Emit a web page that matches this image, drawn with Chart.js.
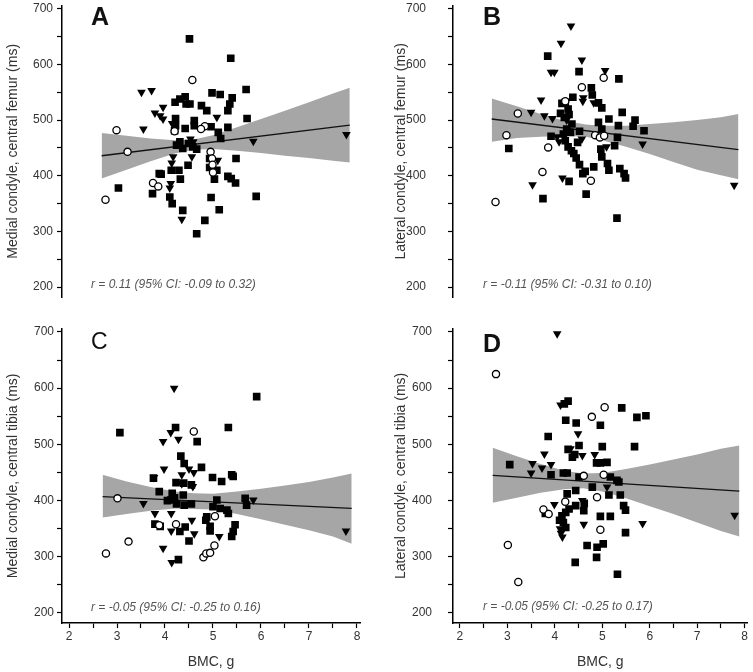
<!DOCTYPE html>
<html><head><meta charset="utf-8">
<script src="https://cdn.jsdelivr.net/npm/chart.js@4.4.1/dist/chart.umd.min.js"></script>
<style>
html,body{margin:0;padding:0;background:#fff;}
#wrap{position:relative;width:753px;height:672px;overflow:hidden;}
canvas{position:absolute;}
</style></head><body>
<div id="wrap">
<canvas id="cA" width="376" height="320" style="left:0;top:0"></canvas>
<canvas id="cB" width="377" height="320" style="left:376px;top:0"></canvas>
<canvas id="cC" width="376" height="352" style="left:0;top:320px"></canvas>
<canvas id="cD" width="377" height="352" style="left:376px;top:320px"></canvas>
</div>
<script>
// ---------- texts & ticks ----------
const xTicks = [2, 3, 4, 5, 6, 7, 8];
const yTicks = [200, 300, 400, 500, 600, 700];
const xMinorTicks = [2.5, 3.5, 4.5, 5.5, 6.5, 7.5];
const yMinorTicks = [250, 350, 450, 550, 650];
const panelLetters = ['A', 'B', 'C', 'D'];
const yTitles = ['Medial condyle, central femur (ms)', 'Lateral condyle, central femur (ms)',
                 'Medial condyle, central tibia (ms)', 'Lateral condyle, central tibia (ms)'];
const xTitle = 'BMC, g';
const rTexts = ['r = 0.11 (95% CI: -0.09 to 0.32)', 'r = -0.11 (95% CI: -0.31 to 0.10)',
                'r = -0.05 (95% CI: -0.25 to 0.16)', 'r = -0.05 (95% CI: -0.25 to 0.17)'];

// ---------- Panel A ----------
const A_squares = [[4.51,646],[5.37,611],[5.69,555],[5.71,503],[3.03,378],[3.74,368],[5.90,363],[4.66,296],[4.83,320],[4.37,338],[5.13,339],[4.96,361],[4.10,362],[4.15,350],[5.48,431],[5.31,399],[5.38,395],[5.47,387],[5.03,394],[5.08,410],[4.21,532],[4.31,538],[4.42,542],[4.44,529],[4.52,529],[4.22,503],[4.22,490],[4.20,481],[4.42,485],[4.61,499],[4.61,490],[4.76,526],[4.87,517],[4.98,549],[5.15,546],[5.40,540],[5.35,529],[5.31,517],[5.31,487],[4.96,488],[5.11,478],[5.16,467],[4.31,461],[4.37,449],[4.49,458],[4.48,419],[4.93,431],[4.93,415],[3.92,403],[3.88,404],[4.13,410],[4.29,410],[4.32,394],[4.58,452],[4.66,448],[4.24,455]];
const A_triangles = [[3.51,550],[3.72,553],[3.55,484],[3.79,513],[3.90,508],[3.96,502],[3.96,523],[4.17,434],[4.14,423],[4.10,378],[4.12,386],[4.35,322],[4.56,434],[4.59,461],[4.53,466],[5.08,505],[5.10,428],[5.84,462],[7.78,474],[4.15,494]];
const A_circles = [[2.76,357],[2.99,482],[3.22,443],[4.57,572],[3.75,387],[3.86,381],[4.20,480],[4.83,489],[4.75,484],[4.95,443],[4.98,431],[5.00,406],[4.99,420]];
const A_bandX = [2.68,3.2,3.7,4.2,4.6,5.0,5.5,6.0,6.5,7.0,7.5,7.85];
const A_bandLow = [395,411,426,440,447,448,445,441,436,432,427,424];
const A_bandHigh = [477,472,467,464,465,473,487,502,517,532,548,558];
const A_fit = [[2.68,436],[7.85,491]];

// ---------- Panel B ----------
const B_squares = [[3.85,615],[4.51,587],[5.35,574],[4.77,558],[4.38,541],[4.22,532],[4.28,520],[4.30,510],[4.20,505],[4.36,493],[4.25,484],[4.18,475],[4.33,478],[4.22,463],[4.28,452],[4.35,445],[4.40,440],[4.45,432],[4.52,420],[4.59,404],[4.64,408],[4.30,390],[5.42,514],[5.14,502],[5.34,490],[5.69,500],[5.65,489],[5.88,481],[4.92,496],[4.99,484],[5.32,469],[5.26,454],[4.97,448],[4.99,434],[5.11,422],[5.14,410],[5.37,413],[5.46,404],[5.49,396],[4.82,416],[4.66,367],[3.75,359],[3.03,449],[3.92,471],[5.31,324],[4.92,531],[4.99,522],[4.79,545],[4.52,480],[4.48,460],[4.12,512],[4.15,530]];
const B_triangles = [[4.34,669],[4.13,638],[4.57,608],[3.92,586],[3.99,586],[5.06,589],[3.71,536],[3.50,514],[3.78,508],[3.95,503],[4.59,534],[4.82,531],[3.53,384],[4.16,396],[4.09,461],[4.57,466],[5.09,452],[5.85,457],[7.78,383],[4.25,500],[4.60,540],[4.05,470]];
const B_circles = [[2.75,353],[2.98,473],[3.22,512],[3.86,451],[3.74,407],[4.22,534],[4.57,559],[5.03,576],[4.76,391],[4.85,473],[4.95,469],[5.04,472]];
const B_bandX = [2.67,3.2,3.7,4.2,4.65,5.0,5.5,6.0,6.5,7.0,7.5,7.87];
const B_bandLow = [461,468,470,472,470,464,452,439,425,411,401,394];
const B_bandHigh = [539,525,511,499,492,490,490,493,496,500,505,511];
const B_fit = [[2.67,502],[7.87,447]];

// ---------- Panel C ----------
const C_squares = [[3.06,521],[4.22,530],[4.67,505],[5.91,585],[5.32,530],[4.33,479],[4.40,466],[4.76,459],[3.76,440],[4.23,432],[4.39,431],[4.55,428],[3.88,416],[4.15,413],[4.38,410],[4.12,401],[4.24,394],[4.40,392],[4.55,394],[3.79,358],[3.90,354],[4.31,345],[4.42,353],[4.50,328],[4.28,295],[4.87,371],[4.94,354],[4.94,346],[4.99,441],[5.18,434],[5.39,446],[5.42,443],[5.08,401],[5.00,389],[5.15,386],[5.29,383],[5.32,377],[5.67,404],[5.70,392],[5.46,357],[5.42,345],[5.39,336],[4.85,365],[4.20,405],[4.05,400]];
const C_triangles = [[4.19,600],[4.12,521],[4.28,509],[3.96,505],[3.98,456],[4.50,456],[4.60,450],[4.35,446],[3.77,441],[3.55,395],[3.79,377],[4.13,377],[3.96,315],[4.13,346],[4.56,365],[4.61,341],[4.14,290],[4.58,425],[5.13,336],[5.84,401],[7.77,346],[4.35,430]];
const C_circles = [[2.77,306],[3.01,404],[3.24,327],[4.60,523],[4.23,358],[3.88,356],[4.80,299],[4.86,306],[4.94,307],[5.03,320],[5.04,372]];
const C_bandX = [2.70,3.2,3.7,4.2,4.6,5.0,5.5,6.0,6.5,7.0,7.5,7.89];
const C_bandLow = [370,376,382,386,385,384,376,367,357,347,336,323];
const C_bandHigh = [446,434,424,416,413,412,416,421,427,433,441,448];
const C_fit = [[2.70,407],[7.89,386]];

// ---------- Panel D ----------
const D_squares = [[3.05,464],[3.86,514],[4.23,543],[4.45,538],[4.28,577],[4.20,572],[4.51,498],[4.28,491],[4.37,477],[4.42,482],[3.92,446],[4.18,449],[4.26,449],[4.51,442],[4.79,424],[4.26,412],[4.44,418],[3.80,377],[4.15,373],[4.23,379],[4.30,385],[4.44,391],[4.61,382],[4.18,361],[4.23,352],[4.68,320],[4.89,317],[4.43,290],[4.96,534],[5.41,565],[5.73,548],[5.92,551],[5.68,496],[5.00,496],[5.10,468],[4.96,467],[4.88,467],[5.31,436],[5.35,433],[5.17,442],[5.38,410],[5.14,410],[5.45,391],[5.49,383],[5.17,372],[4.96,372],[5.49,343],[5.02,323],[4.88,299],[5.32,269],[4.62,395],[4.10,365]];
const D_triangles = [[4.05,697],[3.53,466],[3.50,449],[3.73,458],[3.92,464],[3.78,483],[4.33,492],[4.58,480],[4.84,482],[4.49,519],[3.99,393],[4.11,350],[4.16,335],[4.13,342],[4.61,358],[5.10,424],[5.85,359],[7.79,374],[4.12,570],[4.58,400]];
const D_circles = [[2.76,625],[3.01,321],[3.23,255],[5.05,566],[4.78,549],[3.76,384],[3.87,376],[4.22,398],[4.61,444],[5.03,446],[4.89,406],[4.96,348]];
const D_bandX = [2.69,3.2,3.7,4.2,4.6,5.0,5.5,6.0,6.5,7.0,7.5,7.89];
const D_bandLow = [396,405,414,420,422,416,404,390,376,361,346,336];
const D_bandHigh = [494,479,465,453,448,449,456,464,473,482,492,498];
const D_fit = [[2.69,445],[7.89,417]];

// ---------- drawing ----------
const FONT = '"Liberation Sans", Arial, Helvetica, sans-serif';
const X_MIN = 1.854, X_MAX = 8.063, Y_MIN = 182, Y_MAX = 706;
const toPts = a => a.map(([x, y]) => ({x, y}));
const zipPts = (xs, ys) => xs.map((x, i) => ({x, y: ys[i]}));
const allY = [...yTicks, ...yMinorTicks].sort((a, b) => a - b);
const allX = [...xTicks, ...xMinorTicks].sort((a, b) => a - b);
const AXIS = '#000000';

const decor = {
  id: 'decor',
  afterDraw(chart, args, o) {
    const ctx = chart.ctx;
    ctx.save();
    ctx.fillStyle = '#111';
    ctx.textBaseline = 'alphabetic';
    ctx.textAlign = 'left';
    ctx.font = (o.bold ? 'bold ' : '') + o.letterSize + 'px ' + FONT;
    ctx.fillText(o.letter, o.letterX, o.letterY);
    ctx.fillStyle = '#555';
    ctx.font = 'italic 12px ' + FONT;
    ctx.textBaseline = 'middle';
    ctx.fillText(o.rText, o.rX, o.rY);
    ctx.restore();
  }
};

function makePanel(id, d, cfg) {
  const datasets = [
    {type: 'line', data: zipPts(d.bandX, d.bandLow), showLine: true, borderWidth: 0, borderColor: 'rgba(0,0,0,0)',
     pointRadius: 0, fill: false, order: 10},
    {type: 'line', data: zipPts(d.bandX, d.bandHigh), showLine: true, borderWidth: 0, borderColor: 'rgba(0,0,0,0)',
     pointRadius: 0, fill: '-1', backgroundColor: '#a6a6a6', order: 10},
    {type: 'line', data: toPts(d.fit), showLine: true, borderWidth: 1.3, borderColor: '#111',
     pointRadius: 0, fill: false, order: 5},
    {type: 'scatter', data: toPts(d.squares), pointStyle: 'rect', pointRadius: 5.4,
     backgroundColor: '#000', borderColor: '#000', borderWidth: 0, order: 2},
    {type: 'scatter', data: toPts(d.triangles), pointStyle: 'triangle', rotation: 180, pointRadius: 5,
     backgroundColor: '#000', borderColor: '#000', borderWidth: 0, order: 1},
    {type: 'scatter', data: toPts(d.circles), pointStyle: 'circle', pointRadius: 3.6,
     backgroundColor: '#fff', borderColor: '#000', borderWidth: 1.3, order: 0}
  ];
  new Chart(document.getElementById(id), {
    type: 'scatter',
    data: {datasets},
    plugins: [decor],
    options: {
      responsive: false, animation: false, devicePixelRatio: 1,
      events: [],
      layout: {padding: {left: 0, right: cfg.padRight, top: cfg.padTop, bottom: cfg.padBottom}},
      plugins: {
        legend: {display: false}, tooltip: {enabled: false},
        decor: {letter: cfg.letter, bold: cfg.bold, letterSize: cfg.letterSize,
                letterX: cfg.letterX, letterY: cfg.letterY, rText: cfg.rText, rX: cfg.rX, rY: cfg.rY}
      },
      scales: {
        x: {
          type: 'linear', min: X_MIN, max: X_MAX, display: cfg.xAxis,
          grid: {display: true, drawOnChartArea: false, drawTicks: true, tickLength: 5,
                 tickWidth: 1.2, tickColor: AXIS},
          border: {display: true, color: AXIS, width: 1.5},
          afterBuildTicks: s => { s.ticks = allX.map(v => ({value: v})); },
          afterFit: s => { s.height = cfg.xH; s.paddingLeft = 0; s.paddingRight = 0; },
          ticks: {padding: 1.5, color: '#333', font: {family: FONT, size: 12}, maxRotation: 0, autoSkip: false,
                  callback: v => xTicks.includes(v) ? String(v) : ''},
          title: {display: true, text: xTitle, color: '#333', font: {family: FONT, size: 14}, padding: {top: 0, bottom: 1.5}}
        },
        y: {
          type: 'linear', min: Y_MIN, max: Y_MAX, position: 'left',
          grid: {display: true, drawOnChartArea: false, drawTicks: true, tickLength: 5,
                 tickWidth: 1.2, tickColor: AXIS},
          border: {display: true, color: AXIS, width: 1.5},
          afterBuildTicks: s => { s.ticks = allY.map(v => ({value: v})); },
          afterFit: s => { s.width = cfg.yW; s.paddingTop = 0; s.paddingBottom = 0; },
          ticks: {padding: cfg.yPad, color: '#333', font: {family: FONT, size: 12}, autoSkip: false,
                  callback: v => yTicks.includes(v) ? String(v) : ''},
          title: {display: true, text: cfg.yTitle, color: '#333', font: {family: FONT, size: 14},
                  padding: {top: cfg.yTitlePad, bottom: 0}}
        }
      }
    }
  });
}

makePanel('cA', {squares: A_squares, triangles: A_triangles, circles: A_circles, bandX: A_bandX, bandLow: A_bandLow, bandHigh: A_bandHigh, fit: A_fit},
  {xAxis: false, padRight: 16, padTop: 1.6, padBottom: 22.8, xH: 0, yW: 62, yPad: 4, yTitlePad: 4.6, yTitle: yTitles[0],
   letter: panelLetters[0], bold: true, letterSize: 25, letterX: 91, letterY: 25, rText: rTexts[0], rX: 91, rY: 285});
makePanel('cB', {squares: B_squares, triangles: B_triangles, circles: B_circles, bandX: B_bandX, bandLow: B_bandLow, bandHigh: B_bandHigh, fit: B_fit},
  {xAxis: false, padRight: 3, padTop: 1.6, padBottom: 22.8, xH: 0, yW: 77, yPad: 22, yTitlePad: 16.6, yTitle: yTitles[1],
   letter: panelLetters[1], bold: true, letterSize: 25, letterX: 107, letterY: 25, rText: rTexts[1], rX: 107, rY: 285});
makePanel('cC', {squares: C_squares, triangles: C_triangles, circles: C_circles, bandX: C_bandX, bandLow: C_bandLow, bandHigh: C_bandHigh, fit: C_fit},
  {xAxis: true, padRight: 16, padTop: 8.6, padBottom: 0, xH: 48.9, yW: 62, yPad: 3, yTitlePad: 4.6, yTitle: yTitles[2],
   letter: panelLetters[2], bold: false, letterSize: 23, letterX: 91, letterY: 29, rText: rTexts[2], rX: 91, rY: 288});
makePanel('cD', {squares: D_squares, triangles: D_triangles, circles: D_circles, bandX: D_bandX, bandLow: D_bandLow, bandHigh: D_bandHigh, fit: D_fit},
  {xAxis: true, padRight: 3, padTop: 8.6, padBottom: 0, xH: 48.9, yW: 77, yPad: 16, yTitlePad: 16.6, yTitle: yTitles[3],
   letter: panelLetters[3], bold: true, letterSize: 25, letterX: 107, letterY: 32, rText: rTexts[3], rX: 107, rY: 287});
</script>
</body></html>
